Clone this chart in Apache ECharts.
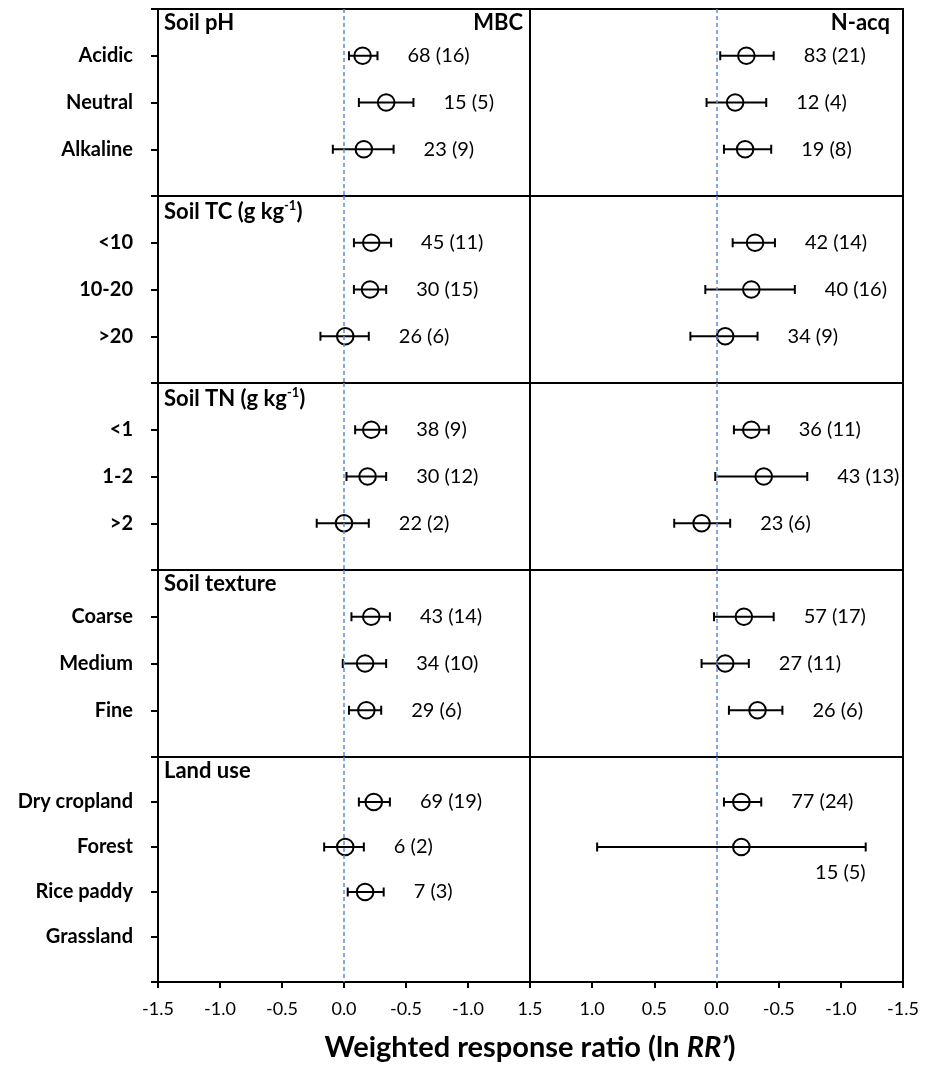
<!DOCTYPE html>
<html>
<head>
<meta charset="utf-8">
<script src="https://cdn.jsdelivr.net/npm/echarts@6/dist/echarts.min.js"></script>
<style>
  html, body { margin: 0; padding: 0; background: #fff; }
  #chart { width: 935px; height: 1068px; }
</style>
</head>
<body>
<div id="chart"></div>
<script>
// ---- data ----------------------------------------------------------------
// Moderator groups, one list per section (top to bottom)
const sectionTitles = [
  '{b|Soil pH}',
  '{b|Soil TC (g kg}{sup|-1}{b|)}',
  '{b|Soil TN (g kg}{sup|-1}{b|)}',
  '{b|Soil texture}',
  '{b|Land use}'
];
const phCats = ['Acidic', 'Neutral', 'Alkaline'];
const tcCats = ['<10', '10-20', '>20'];
const tnCats = ['<1', '1-2', '>2'];
const textureCats = ['Coarse', 'Medium', 'Fine'];
const landUseCats = ['Dry cropland', 'Forest', 'Rice paddy', 'Grassland'];
const sectionCats = [phCats, tcCats, tnCats, textureCats, landUseCats];

// Weighted response ratio (ln RR') with 95% CI, rows in the order of the lists above
const mbcMean = [-0.15, -0.34, -0.16, -0.22, -0.21, -0.01, -0.22, -0.19, 0.00, -0.22, -0.17, -0.18, -0.24, -0.01, -0.17, null];
const mbcLow  = [-0.27, -0.56, -0.40, -0.38, -0.34, -0.20, -0.34, -0.34, -0.20, -0.37, -0.34, -0.30, -0.37, -0.16, -0.32, null];
const mbcHigh = [-0.04, -0.12,  0.09, -0.08, -0.08,  0.19, -0.09, -0.02,  0.22, -0.06,  0.01, -0.04, -0.12,  0.16, -0.03, null];
const mbcObs     = [68, 15, 23, 45, 30, 26, 38, 30, 22, 43, 34, 29, 69, 6, 7, null];
const mbcStudies = [16, 5, 9, 11, 15, 6, 9, 12, 2, 14, 10, 6, 19, 2, 3, null];

const nacqMean = [-0.24, -0.15, -0.23, -0.31, -0.28, -0.07, -0.28, -0.38, 0.12, -0.22, -0.07, -0.33, -0.20, -0.20, null, null];
const nacqLow  = [-0.46, -0.40, -0.44, -0.47, -0.63, -0.33, -0.42, -0.73, -0.11, -0.46, -0.26, -0.53, -0.36, -1.20, null, null];
const nacqHigh = [-0.03,  0.08, -0.06, -0.13,  0.09,  0.21, -0.14,  0.01,  0.34,  0.02,  0.12, -0.10, -0.06,  0.96, null, null];
const nacqObs     = [83, 12, 19, 42, 40, 34, 36, 43, 23, 57, 27, 26, 77, 15, null, null];
const nacqStudies = [21, 4, 8, 14, 16, 9, 11, 13, 6, 17, 11, 6, 24, 5, null, null];

const panelNames = ['MBC', 'N-acq'];
// Tick texts along the shared bottom axis, left to right in each panel
const mbcTickText  = ['-1.5', '-1.0', '-0.5', '0.0', '-0.5', '-1.0', ''];
const nacqTickText = ['1.5', '1.0', '0.5', '0.0', '-0.5', '-1.0', '-1.5'];
const axisTitle = '{b|Weighted response ratio (ln }{bi|RR\u2019}{b|)}';

// ---- layout --------------------------------------------------------------
const FONT = 'Lato';
const panelLeft = [158, 530];
const panelWidth = [372, 373];
const sectionTop = [9, 196, 383, 570, 757];
const sectionHeight = [187, 187, 187, 187, 225];

const panels = [
  { mean: mbcMean, low: mbcLow, high: mbcHigh, obs: mbcObs, studies: mbcStudies, ticks: mbcTickText },
  { mean: nacqMean, low: nacqLow, high: nacqHigh, obs: nacqObs, studies: nacqStudies, ticks: nacqTickText }
];

function makeRenderer(labels) {
  return function (params, api) {
    const row = api.value(3);
    const pMean = api.coord([api.value(0), row]);
    const pLow = api.coord([api.value(1), row]);
    const pHigh = api.coord([api.value(2), row]);
    const xL = Math.min(pLow[0], pHigh[0]);
    const xR = Math.max(pLow[0], pHigh[0]);
    const y = pMean[1];
    const cs = params.coordSys;
    const rightEdge = cs.x + cs.width;
    const cap = 4.5;
    const line = { stroke: '#000', lineWidth: 2 };
    const text = labels[params.dataIndex];
    // put the count label below the bar when it would run past the panel edge
    const below = xR + 80 > rightEdge;
    return {
      type: 'group',
      children: [
        { type: 'line', shape: { x1: xL, y1: y, x2: xR, y2: y }, style: line },
        { type: 'line', shape: { x1: xL, y1: y - cap, x2: xL, y2: y + cap }, style: line },
        { type: 'line', shape: { x1: xR, y1: y - cap, x2: xR, y2: y + cap }, style: line },
        { type: 'circle', shape: { cx: pMean[0], cy: y, r: 8.3 }, style: { fill: 'transparent', stroke: '#000', lineWidth: 2 } },
        {
          type: 'text',
          style: {
            text: text,
            x: below ? xR : xR + 30,
            y: below ? y + 26 : y,
            align: below ? 'right' : 'left',
            verticalAlign: 'middle',
            fontFamily: FONT,
            fontSize: 20,
            fill: '#000'
          }
        }
      ]
    };
  };
}

const grid = [], xAxis = [], yAxis = [], series = [], graphic = [];
let rowOffset = 0;
sectionCats.forEach((cats, s) => {
  const isBottom = s === sectionCats.length - 1;
  panels.forEach((p, k) => {
    const gi = s * 2 + k;
    grid.push({
      left: panelLeft[k], top: sectionTop[s], width: panelWidth[k], height: sectionHeight[s],
      show: true, borderColor: '#000', borderWidth: 2, backgroundColor: 'transparent'
    });
    xAxis.push({
      gridIndex: gi, type: 'value', position: 'bottom', min: -1.5, max: 1.5, interval: 0.5, inverse: true,
      axisLine: { show: false, onZero: false }, splitLine: { show: false },
      axisTick: { show: isBottom, length: 6, lineStyle: { color: '#000', width: 2 } },
      axisLabel: {
        show: isBottom, showMinLabel: true, showMaxLabel: true, margin: 18,
        fontFamily: FONT, fontSize: 18, color: '#000',
        formatter: v => p.ticks[Math.round((1.5 - v) / 0.5)]
      }
    });
    yAxis.push({
      gridIndex: gi, type: 'value', position: 'left', inverse: true, min: 0, max: cats.length + 1, interval: 1,
      axisLine: { show: false, onZero: false }, splitLine: { show: false },
      axisTick: { show: k === 0, length: 7, lineStyle: { color: '#000', width: 2 } },
      axisLabel: {
        show: k === 0, margin: 25, fontFamily: FONT, fontSize: 20, fontWeight: 'bold', color: '#000',
        formatter: v => cats[v - 1] || ''
      }
    });
    const data = [], labels = [];
    cats.forEach((c, i) => {
      const r = rowOffset + i;
      if (p.mean[r] == null) return;
      data.push([p.mean[r], p.low[r], p.high[r], i + 1]);
      labels.push(p.obs[r] + ' (' + p.studies[r] + ')');
    });
    series.push({
      type: 'custom', xAxisIndex: gi, yAxisIndex: gi, silent: true,
      renderItem: makeRenderer(labels), data: data, clip: false,
      markLine: {
        silent: true, symbol: 'none', label: { show: false },
        lineStyle: { type: [4, 3], color: '#5B8ED6', width: 1.5 },
        data: [{ xAxis: 0 }]
      }
    });
  });
  // section heading
  graphic.push({
    type: 'text', left: 164, top: sectionTop[s] + 3, z: 10,
    style: {
      text: sectionTitles[s],
      rich: {
        b: { fontFamily: FONT, fontSize: 22, fontWeight: 'bold', fill: '#000', lineHeight: 25 },
        sup: { fontFamily: FONT, fontSize: 13, fontWeight: 'bold', fill: '#000', verticalAlign: 'top', lineHeight: 25, padding: [0, 0, 10, 0] }
      }
    }
  });
  rowOffset += cats.length;
});

// panel names in the top row
panelNames.forEach((name, k) => {
  graphic.push({
    type: 'text', right: 935 - (panelLeft[k] + panelWidth[k]) + (k === 0 ? 7 : 13), top: sectionTop[0] + 3, z: 10,
    style: { text: name, fontFamily: FONT, fontSize: 22, fontWeight: 'bold', fill: '#000' }
  });
});

// x-axis title, centred under the panel divider
graphic.push({
  type: 'text', z: 10, x: panelLeft[1], y: 1048,
  style: {
    text: axisTitle, align: 'center', verticalAlign: 'middle',
    rich: {
      b: { fontFamily: FONT, fontSize: 29, fontWeight: 'bold', fill: '#000' },
      bi: { fontFamily: FONT, fontSize: 29, fontWeight: 'bold', fontStyle: 'italic', fill: '#000' }
    }
  }
});

const chart = echarts.init(document.getElementById('chart'), null, { renderer: 'canvas' });
chart.setOption({
  animation: false,
  backgroundColor: '#fff',
  grid, xAxis, yAxis, series, graphic
});
</script>
</body>
</html>
